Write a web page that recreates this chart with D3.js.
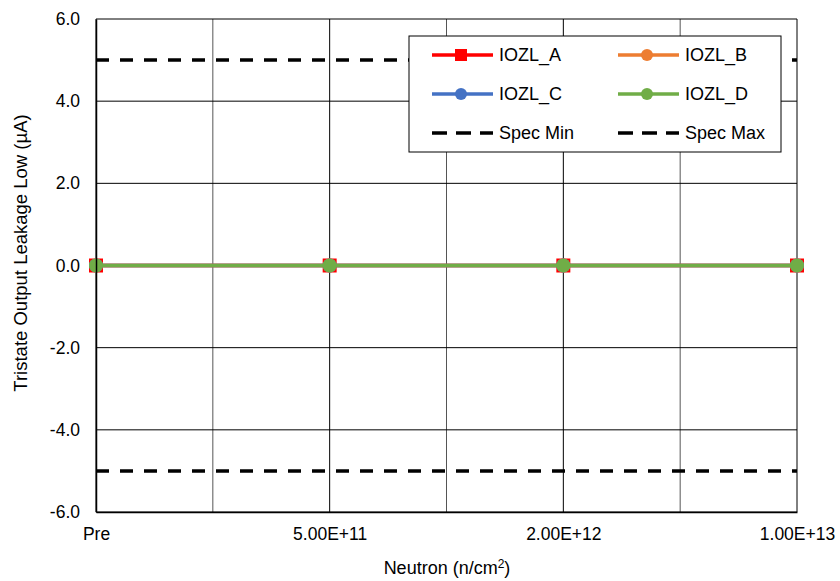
<!DOCTYPE html>
<html>
<head>
<meta charset="utf-8">
<script src="https://cdn.jsdelivr.net/npm/d3@7"></script>
<style>
  body { margin: 0; background: #fff; }
  text { font-family: Arial, "Liberation Sans", sans-serif; fill: #000; }
</style>
</head>
<body>
<script>
// chart values
var categories = ["Pre", "5.00E+11", "2.00E+12", "1.00E+13"];
var iozlA = [0, 0, 0, 0];
var iozlB = [0, 0, 0, 0];
var iozlC = [0, 0, 0, 0];
var iozlD = [0, 0, 0, 0];
var specMin = -5;
var specMax = 5;
var yTicks = [-6, -4, -2, 0, 2, 4, 6];

var series = [
  {name: "IOZL_A", values: iozlA, color: "#ff0000", marker: "square"},
  {name: "IOZL_B", values: iozlB, color: "#ed7d31", marker: "circle"},
  {name: "IOZL_C", values: iozlC, color: "#4472c4", marker: "circle"},
  {name: "IOZL_D", values: iozlD, color: "#70ad47", marker: "circle"}
];

var W = 840, H = 581;
var m = {left: 96, right: 43, top: 19, bottom: 69};
var fs = "17.5px";

var svg = d3.select("body").append("svg").attr("width", W).attr("height", H);

// categories sit on every other gridline
var x = d3.scaleLinear().domain([0, (categories.length - 1) * 2]).range([m.left, W - m.right]);
var y = d3.scaleLinear().domain([-6, 6]).range([H - m.bottom, m.top]);
var catX = function(i) { return x(i * 2); };

var g = svg.append("g");

// grid
g.selectAll(".vg").data(d3.range(0, (categories.length - 1) * 2 + 1)).enter().append("line")
  .attr("x1", function(d) { return x(d); }).attr("x2", function(d) { return x(d); })
  .attr("y1", y(-6)).attr("y2", y(6))
  .attr("stroke", function(d) { return d % 2 ? "#555" : "#000"; }).attr("stroke-width", 1);
g.selectAll(".hg").data(yTicks).enter().append("line")
  .attr("x1", x.range()[0]).attr("x2", x.range()[1])
  .attr("y1", function(d) { return y(d); }).attr("y2", function(d) { return y(d); })
  .attr("stroke", "#000").attr("stroke-width", 1);

// axes
var yAxis = d3.axisLeft(y).tickValues(yTicks).tickSize(0).tickPadding(16)
  .tickFormat(function(d) { return d.toFixed(1); });
svg.append("g").attr("transform", "translate(" + m.left + ",0)").call(yAxis)
  .call(function(s) { s.select(".domain").attr("stroke", "#000").attr("stroke-width", 1.5); })
  .selectAll("text").style("font-size", fs);

var xAxis = d3.axisBottom(x).tickValues(categories.map(function(c, i) { return i * 2; }))
  .tickSize(0).tickPadding(0).tickFormat(function(d) { return categories[d / 2]; });
svg.append("g").attr("transform", "translate(0," + y(-6) + ")").call(xAxis)
  .call(function(s) { s.select(".domain").attr("stroke", "#000").attr("stroke-width", 1.5); })
  .selectAll("text").style("font-size", fs).attr("dy", null).attr("y", 28);

// spec lines
[specMin, specMax].forEach(function(v) {
  g.append("line").attr("x1", x.range()[0]).attr("x2", x.range()[1])
    .attr("y1", y(v)).attr("y2", y(v))
    .attr("stroke", "#000").attr("stroke-width", 3.5).attr("stroke-dasharray", "13,11");
});

// series
var line = d3.line().x(function(d, i) { return catX(i); }).y(function(d) { return y(d); });
function drawMarker(sel, s, cx, cy, r) {
  if (s.marker == "square")
    sel.append("rect").attr("x", cx - r).attr("y", cy - r).attr("width", r * 2).attr("height", r * 2)
      .attr("fill", s.color);
  else
    sel.append("circle").attr("cx", cx).attr("cy", cy).attr("r", r).attr("fill", s.color);
}
series.forEach(function(s) {
  var sg = g.append("g");
  sg.append("path").datum(s.values).attr("d", line)
    .attr("fill", "none").attr("stroke", s.color).attr("stroke-width", 3.5);
  s.values.forEach(function(v, i) {
    drawMarker(sg, s, catX(i), y(v), 7);
  });
});

// axis titles
svg.append("text").attr("x", 447).attr("y", 574).attr("text-anchor", "middle")
  .style("font-size", "18px")
  .html('Neutron (n/cm<tspan dy="-6" font-size="12px">2</tspan><tspan dy="6">)</tspan>');
svg.append("text").attr("transform", "translate(27,253) rotate(-90)")
  .attr("text-anchor", "middle").style("font-size", "18.5px")
  .text("Tristate Output Leakage Low (\u00b5A)");

// legend
var lg = svg.append("g").attr("transform", "translate(409,36)");
lg.append("rect").attr("width", 372).attr("height", 116)
  .attr("fill", "#fff").attr("stroke", "#000").attr("stroke-width", 1);
var items = series.map(function(s) { return {name: s.name, s: s}; })
  .concat([{name: "Spec Min", dash: true}, {name: "Spec Max", dash: true}]);
items.forEach(function(it, i) {
  var col = i % 2, row = Math.floor(i / 2);
  var lx = 23 + col * 186, ly = 19 + row * 39;
  if (it.dash) {
    lg.append("line").attr("x1", lx).attr("x2", lx + 61).attr("y1", ly).attr("y2", ly)
      .attr("stroke", "#000").attr("stroke-width", 3.5).attr("stroke-dasharray", "15,9");
  } else {
    lg.append("line").attr("x1", lx).attr("x2", lx + 61).attr("y1", ly).attr("y2", ly)
      .attr("stroke", it.s.color).attr("stroke-width", 3.5);
    drawMarker(lg, it.s, lx + 29, ly, 6);
  }
  lg.append("text").attr("x", lx + 67).attr("y", ly + 6).style("font-size", "18px").text(it.name);
});
</script>
</body>
</html>
